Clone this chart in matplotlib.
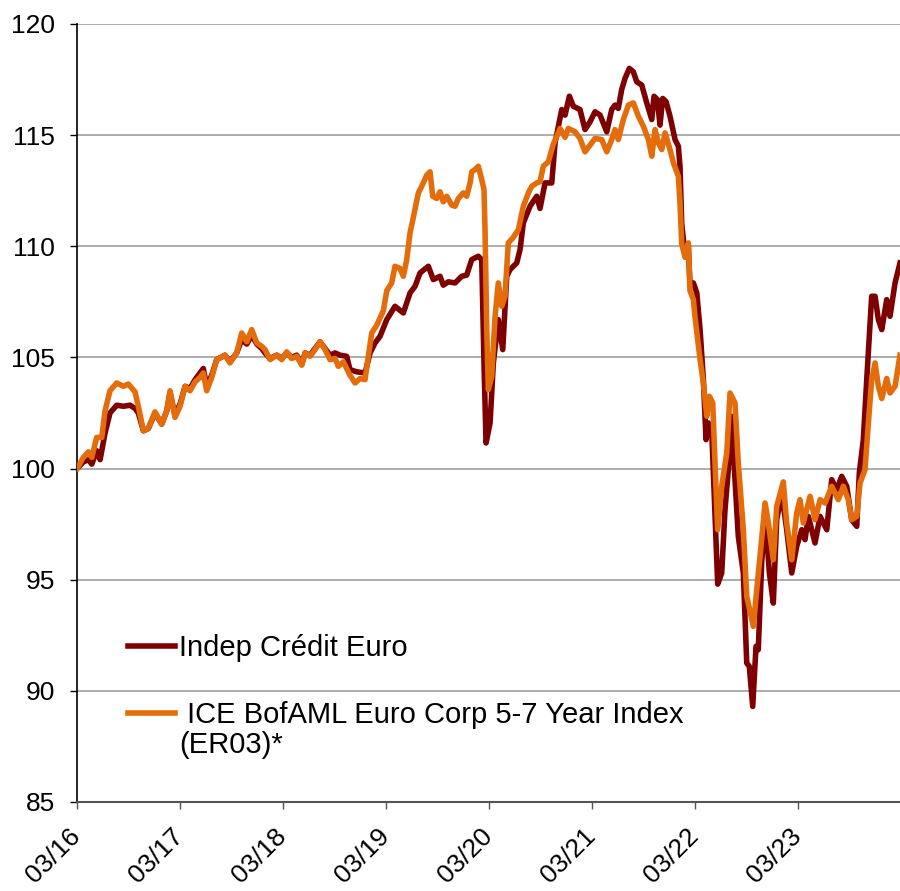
import matplotlib.pyplot as plt
from matplotlib.lines import Line2D

# decimal years (03/16 = 2016.25)
fund_t = [2016.250, 2016.311, 2016.360, 2016.393, 2016.441, 2016.474, 2016.522, 2016.570, 2016.635, 2016.700,
          2016.765, 2016.813, 2016.845, 2016.894, 2016.942, 2017.007, 2017.072, 2017.121, 2017.153, 2017.201,
          2017.250, 2017.299, 2017.347, 2017.396, 2017.444, 2017.476, 2017.509, 2017.558, 2017.606, 2017.687,
          2017.735, 2017.800, 2017.849, 2017.898, 2017.946, 2017.995, 2018.043, 2018.075, 2018.124, 2018.189,
          2018.237, 2018.286, 2018.334, 2018.383, 2018.432, 2018.464, 2018.512, 2018.561, 2018.609, 2018.658,
          2018.706, 2018.755, 2018.803, 2018.868, 2018.900, 2018.968, 2019.046, 2019.095, 2019.143, 2019.192,
          2019.257, 2019.337, 2019.418, 2019.483, 2019.532, 2019.580, 2019.661, 2019.709, 2019.774, 2019.806,
          2019.855, 2019.920, 2019.985, 2020.033, 2020.082, 2020.146, 2020.179, 2020.201, 2020.221, 2020.260,
          2020.292, 2020.340, 2020.383, 2020.422, 2020.454, 2020.519, 2020.551, 2020.583, 2020.648, 2020.713,
          2020.745, 2020.794, 2020.859, 2020.891, 2020.956, 2020.988, 2021.030, 2021.068, 2021.133, 2021.182,
          2021.231, 2021.279, 2021.328, 2021.393, 2021.441, 2021.473, 2021.505, 2021.538, 2021.570, 2021.612,
          2021.651, 2021.684, 2021.733, 2021.781, 2021.830, 2021.852, 2021.884, 2021.910, 2021.936, 2021.969,
          2022.007, 2022.056, 2022.088, 2022.104, 2022.121, 2022.153, 2022.185, 2022.201, 2022.234, 2022.267,
          2022.299, 2022.331, 2022.357, 2022.380, 2022.413, 2022.444, 2022.470, 2022.509, 2022.541, 2022.573,
          2022.606, 2022.638, 2022.670, 2022.719, 2022.752, 2022.777, 2022.810, 2022.842, 2022.864, 2022.897,
          2022.930, 2022.972, 2023.010, 2023.043, 2023.092, 2023.140, 2023.189, 2023.237, 2023.286, 2023.318,
          2023.350, 2023.415, 2023.464, 2023.529, 2023.577, 2023.626, 2023.674, 2023.723, 2023.771, 2023.820,
          2023.845, 2023.884, 2023.917, 2023.965, 2023.998, 2024.030, 2024.063, 2024.111, 2024.143, 2024.192,
          2024.240]
fund_v = [100.0, 100.3, 100.4, 100.2, 100.8, 100.4, 101.6, 102.5, 102.85, 102.8,
          102.85, 102.7, 102.5, 101.7, 101.8, 102.5, 102.0, 102.6, 103.4, 102.4,
          102.9, 103.7, 103.6, 104.0, 104.3, 104.5, 103.7, 104.2, 104.9, 105.1,
          104.8, 105.2, 105.8, 105.6, 106.0, 105.6, 105.4, 105.2, 104.95, 105.1,
          104.95, 105.2, 105.0, 105.1, 104.7, 105.2, 105.1, 105.4, 105.7, 105.4,
          105.1, 105.2, 105.1, 105.05, 104.45, 104.35, 104.3, 105.2, 105.65, 105.95,
          106.7, 107.3, 107.0, 107.9, 108.2, 108.8, 109.1, 108.5, 108.65, 108.25,
          108.4, 108.35, 108.65, 108.7, 109.4, 109.55, 109.4, 104.75, 101.15, 102.05,
          104.75, 106.7, 105.35, 108.65, 108.95, 109.25, 109.85, 111.05, 111.8, 112.25,
          111.7, 112.85, 112.85, 114.65, 116.15, 115.9, 116.75, 116.3, 116.15, 115.25,
          115.6, 116.05, 115.9, 115.15, 116.15, 116.35, 116.2, 117.05, 117.55, 118.0,
          117.85, 117.4, 117.25, 116.45, 115.7, 116.75, 116.6, 115.45, 116.65, 116.5,
          115.85, 114.8, 114.5, 113.6, 111.0, 109.6, 110.0, 108.3, 108.35, 107.9,
          106.25, 104.0, 101.3, 102.05, 101.6, 97.85, 94.8, 95.3, 98.15, 99.95,
          102.35, 99.5, 96.95, 95.3, 91.25, 91.1, 89.3, 92.0, 91.85, 95.75,
          98.0, 95.3, 93.95, 97.7, 98.9, 97.25, 95.3, 96.5, 97.25, 96.8,
          97.85, 96.65, 97.85, 97.25, 99.5, 99.05, 99.65, 99.2, 97.7, 97.4,
          99.8, 101.3, 104.0, 107.75, 107.75, 106.7, 106.25, 107.6, 106.85, 108.35,
          109.25]

bench_t = [2016.250, 2016.311, 2016.360, 2016.393, 2016.441, 2016.490, 2016.522, 2016.570, 2016.635, 2016.700,
           2016.748, 2016.813, 2016.845, 2016.894, 2016.942, 2017.007, 2017.072, 2017.121, 2017.153, 2017.201,
           2017.250, 2017.299, 2017.347, 2017.396, 2017.444, 2017.476, 2017.509, 2017.558, 2017.606, 2017.687,
           2017.735, 2017.800, 2017.849, 2017.898, 2017.946, 2017.995, 2018.043, 2018.075, 2018.124, 2018.189,
           2018.237, 2018.286, 2018.334, 2018.383, 2018.432, 2018.464, 2018.512, 2018.561, 2018.609, 2018.658,
           2018.706, 2018.755, 2018.787, 2018.835, 2018.900, 2018.949, 2018.998, 2019.046, 2019.111, 2019.160,
           2019.224, 2019.257, 2019.305, 2019.337, 2019.386, 2019.418, 2019.451, 2019.483, 2019.515, 2019.564,
           2019.597, 2019.645, 2019.677, 2019.703, 2019.742, 2019.774, 2019.806, 2019.839, 2019.888, 2019.920,
           2019.952, 2020.000, 2020.033, 2020.066, 2020.082, 2020.114, 2020.146, 2020.179, 2020.201, 2020.211,
           2020.228, 2020.243, 2020.276, 2020.308, 2020.340, 2020.373, 2020.405, 2020.437, 2020.486, 2020.535,
           2020.583, 2020.632, 2020.665, 2020.713, 2020.745, 2020.777, 2020.826, 2020.874, 2020.923, 2020.939,
           2020.988, 2021.020, 2021.085, 2021.133, 2021.182, 2021.231, 2021.279, 2021.344, 2021.393, 2021.441,
           2021.473, 2021.505, 2021.554, 2021.603, 2021.651, 2021.700, 2021.748, 2021.797, 2021.830, 2021.862,
           2021.894, 2021.927, 2021.959, 2022.007, 2022.040, 2022.088, 2022.104, 2022.121, 2022.153, 2022.185,
           2022.201, 2022.234, 2022.250, 2022.299, 2022.331, 2022.364, 2022.389, 2022.422, 2022.444, 2022.470,
           2022.509, 2022.558, 2022.590, 2022.638, 2022.670, 2022.719, 2022.752, 2022.816, 2022.849, 2022.881,
           2022.930, 2022.962, 2023.010, 2023.043, 2023.107, 2023.140, 2023.189, 2023.237, 2023.269, 2023.301,
           2023.367, 2023.415, 2023.464, 2023.512, 2023.577, 2023.641, 2023.690, 2023.738, 2023.771, 2023.820,
           2023.852, 2023.900, 2023.933, 2023.965, 2023.998, 2024.030, 2024.063, 2024.111, 2024.143, 2024.192,
           2024.240]
bench_v = [100.0, 100.5, 100.75, 100.5, 101.4, 101.4, 102.6, 103.5, 103.85, 103.7,
           103.8, 103.45, 102.8, 101.7, 101.8, 102.55, 102.0, 102.6, 103.5, 102.3,
           102.8, 103.7, 103.5, 103.9, 104.1, 104.3, 103.5, 104.1, 104.9, 105.1,
           104.75, 105.2, 106.1, 105.7, 106.25, 105.65, 105.5, 105.35, 104.9, 105.1,
           104.9, 105.25, 104.95, 105.05, 104.65, 105.2, 105.05, 105.35, 105.7, 105.35,
           104.9, 104.95, 104.6, 104.8, 104.2, 103.85, 104.05, 104.0, 106.1, 106.45,
           107.1, 108.0, 108.35, 109.1, 109.0, 108.65, 109.4, 110.6, 111.3, 112.4,
           112.7, 113.2, 113.35, 112.25, 112.15, 112.45, 112.0, 112.25, 111.85, 111.8,
           112.15, 112.4, 112.25, 112.85, 113.35, 113.45, 113.6, 113.0, 112.55, 110.75,
           106.25, 103.55, 104.15, 106.8, 108.35, 107.3, 107.75, 110.15, 110.4, 110.75,
           111.8, 112.4, 112.7, 112.85, 112.9, 113.6, 113.8, 114.6, 115.1, 115.3,
           114.9, 115.3, 115.15, 114.85, 114.25, 114.55, 114.85, 114.8, 114.25, 114.8,
           115.25, 114.8, 115.7, 116.35, 116.45, 115.85, 115.4, 114.8, 114.05, 115.25,
           114.65, 114.35, 115.1, 114.35, 113.75, 113.15, 111.95, 110.1, 109.5, 110.15,
           108.0, 107.6, 106.8, 104.9, 103.85, 102.35, 103.25, 102.95, 100.25, 97.25,
           99.2, 100.7, 103.4, 102.95, 100.25, 97.25, 94.25, 92.9, 94.55, 96.05,
           98.45, 97.55, 95.9, 98.3, 99.4, 97.55, 95.9, 98.0, 98.6, 97.55,
           98.75, 97.7, 98.6, 98.45, 99.2, 98.6, 99.2, 98.6, 97.7, 97.85,
           99.35, 99.95, 102.05, 104.0, 104.75, 103.7, 103.15, 104.05, 103.4, 103.7,
           105.1]

fund_label = "Indep Crédit Euro"
bench_label = [" ICE BofAML Euro Corp 5-7 Year Index", "(ER03)*"]
tick_years = [2016, 2017, 2018, 2019, 2020, 2021, 2022, 2023]
tick_labels = ["03/16", "03/17", "03/18", "03/19", "03/20", "03/21", "03/22", "03/23"]

plt.rcParams['font.family'] = ['Liberation Sans', 'DejaVu Sans']

dark = "#7f0000"
orange = "#e46c0a"
fs = 19
lfs = 21
lw = 4.0

fig = plt.figure(figsize=(9, 8.91), dpi=100)
ax = fig.add_axes([0.0856, 0.0999, 0.9144, 0.8732])

ax.plot(fund_t, fund_v, color=dark, lw=lw, solid_joinstyle='round', zorder=3)
ax.plot(bench_t, bench_v, color=orange, lw=lw, solid_joinstyle='round', zorder=4)

ax.set_xlim(fund_t[0], fund_t[-1])
ax.set_ylim(85, 120)
ax.set_yticks(range(85, 121, 5))
ax.set_xticks([y + 0.25 for y in tick_years])
ax.set_xticklabels(tick_labels, rotation=45, ha='right', va='center', rotation_mode='anchor')

ax.grid(axis='y', color='#a0a0a0', lw=1.2)
ax.set_axisbelow(True)
for s in ['top', 'right']:
    ax.spines[s].set_visible(False)
ax.spines['left'].set_color('black')
ax.spines['left'].set_linewidth(1.2)
ax.spines['bottom'].set_color('#555555')
ax.spines['bottom'].set_linewidth(1.5)
ax.tick_params(axis='y', direction='out', length=5, width=1, labelsize=fs, pad=11)
ax.tick_params(axis='x', direction='out', length=5, width=1, color='#555555', labelsize=fs, pad=17)

leg1 = ax.legend([Line2D([], [], color=dark, lw=lw)], [fund_label],
                 loc='center left', bbox_to_anchor=(0.062, 0.198), frameon=False,
                 fontsize=lfs, borderpad=0, borderaxespad=0, handlelength=1.6, handletextpad=0.15)
ax.add_artist(leg1)
ax.legend([Line2D([], [], color=orange, lw=lw), Line2D([], [], lw=0)], bench_label,
          loc='center left', bbox_to_anchor=(0.062, 0.0925), frameon=False,
          fontsize=lfs, borderpad=0, borderaxespad=0, handlelength=1.6, handletextpad=0.15,
          labelspacing=0.05)

fig.savefig("out.png", dpi=100)
